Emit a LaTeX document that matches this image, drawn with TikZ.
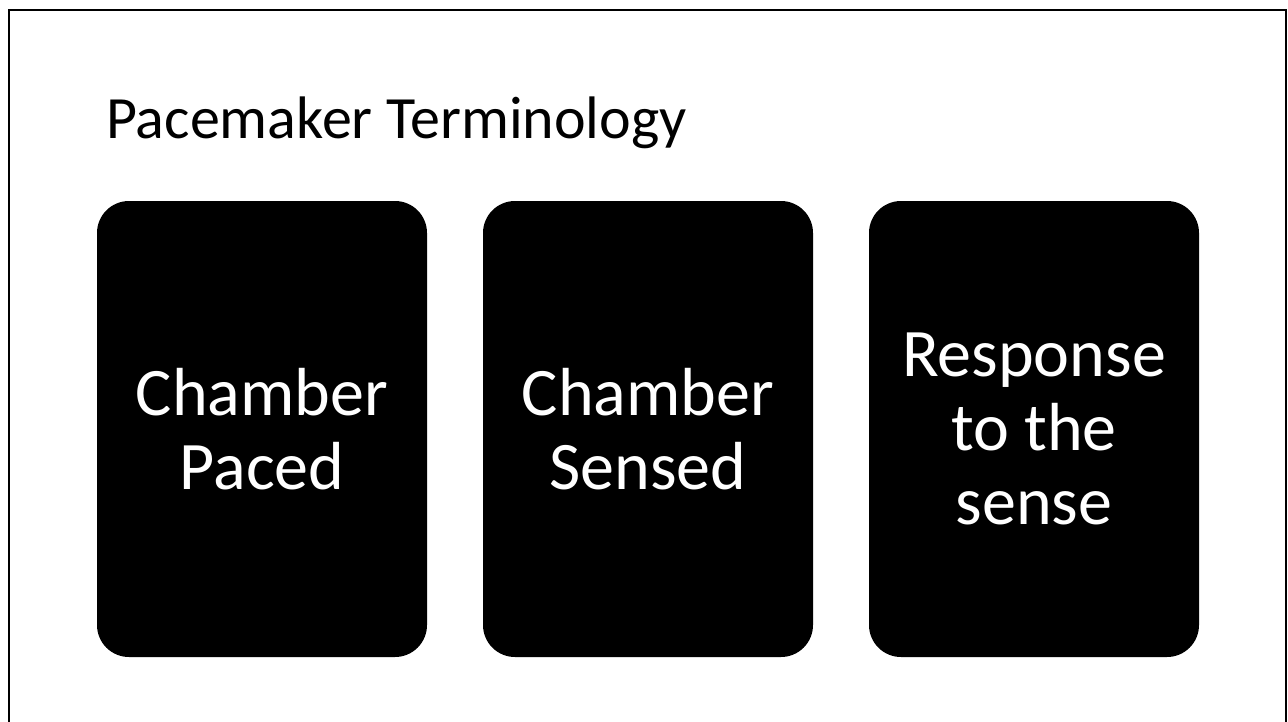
\documentclass[tikz,border=0pt]{standalone}
\usepackage{fontspec}
\setmainfont{Carlito}
\begin{document}
\begin{tikzpicture}[x=1pt,y=-1pt,
  card/.style={fill=black,text=white,rounded corners=32pt,minimum width=330pt,minimum height=456pt,inner sep=0pt,align=center,font=\fontsize{68}{74}\selectfont},
  frame/.style={draw=black,line width=2.2pt}]
\useasboundingbox (0,0) rectangle (1288,721);
\draw[frame] (9.3,10.3) rectangle (1286,760);
\node[anchor=base west,inner sep=0pt,font=\fontsize{60}{72}\selectfont] (title) at (106,138) {Pacemaker Terminology};
\node[card] (paced) at (262,429) {Chamber\\Paced};
\node[card] (sensed) at (648,429) {Chamber\\Sensed};
\node[card] (resp) at (1034,429) {Response\\to the\\sense};
\end{tikzpicture}
\end{document}
